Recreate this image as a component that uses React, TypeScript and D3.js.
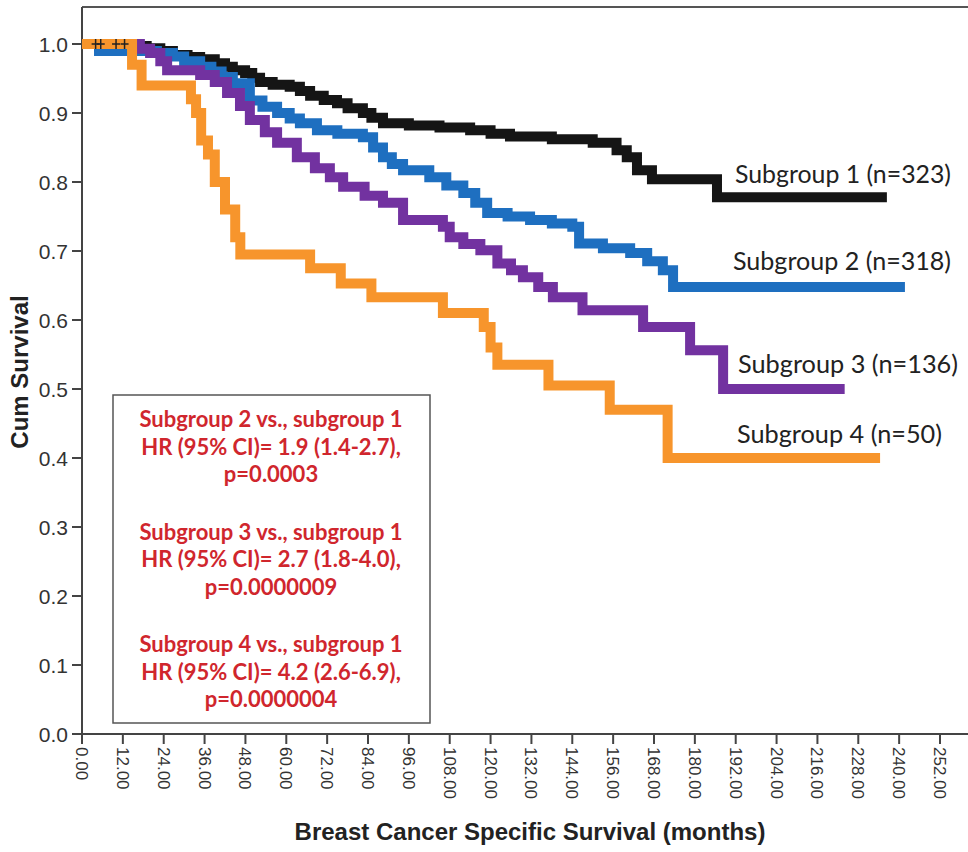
import React from "react";
import * as d3 from "d3";

const W = 968;
const H = 852;

// Subgroup 1 (n=323)
const sg1Time = [0, 5, 19, 23, 26.7, 31, 34.7, 39, 42, 44.3, 47.9, 50, 52.3, 56, 61, 64, 67, 71, 74.9, 78, 82.5, 85, 88.4, 96, 105, 114, 120, 125.7, 138, 150, 157, 160, 163, 167.4, 186.5];
const sg1Surv = [1.0, 0.997, 0.994, 0.99, 0.984, 0.981, 0.978, 0.972, 0.967, 0.962, 0.958, 0.951, 0.945, 0.941, 0.938, 0.932, 0.925, 0.919, 0.914, 0.907, 0.9, 0.893, 0.885, 0.882, 0.879, 0.875, 0.87, 0.866, 0.862, 0.857, 0.846, 0.836, 0.817, 0.804, 0.778];
const sg1End = 236.4;

// Subgroup 2 (n=318)
const sg2Time = [0, 5, 22, 26.7, 30, 34.7, 38, 41, 44.3, 49.3, 53, 57.3, 61, 64, 69, 75, 82.5, 85.5, 88.4, 91, 94.3, 102, 107, 112, 115.5, 119, 125, 131.6, 138, 144, 146, 153, 161, 166, 170.6, 173.6];
const sg2Surv = [1.0, 0.99, 0.987, 0.982, 0.975, 0.967, 0.96, 0.952, 0.943, 0.918, 0.909, 0.9, 0.892, 0.885, 0.875, 0.87, 0.865, 0.85, 0.836, 0.826, 0.817, 0.807, 0.795, 0.784, 0.77, 0.755, 0.75, 0.745, 0.74, 0.735, 0.711, 0.704, 0.697, 0.685, 0.672, 0.648];
const sg2End = 241.7;

// Subgroup 3 (n=136)
const sg3Time = [0, 17, 20, 23, 25, 34.7, 39, 42.6, 46.4, 49.3, 53.7, 57.3, 63.1, 68.4, 72.8, 76.7, 83, 88.4, 94.3, 106, 108, 112, 117, 122, 126, 129.5, 134, 138.3, 147, 164.8, 178.6, 188.3];
const sg3Surv = [1.0, 0.993, 0.987, 0.975, 0.962, 0.955, 0.945, 0.929, 0.91, 0.89, 0.872, 0.857, 0.836, 0.82, 0.807, 0.793, 0.78, 0.77, 0.745, 0.735, 0.72, 0.71, 0.701, 0.682, 0.672, 0.662, 0.648, 0.633, 0.614, 0.59, 0.556, 0.5];
const sg3End = 224;

// Subgroup 4 (n=50)
const sg4Time = [0, 14.7, 17.5, 32, 33.5, 35, 37, 39, 42, 45, 46.5, 67, 76, 85, 106, 118, 120, 122, 137, 155, 172];
const sg4Surv = [1.0, 0.97, 0.94, 0.92, 0.9, 0.86, 0.84, 0.8, 0.76, 0.72, 0.695, 0.675, 0.653, 0.633, 0.61, 0.59, 0.56, 0.535, 0.505, 0.47, 0.4];
const sg4End = 234.4;

const censor1Time = [4, 5.5, 10, 12.5];
const censor1Surv = [1.0, 1.0, 1.0, 1.0];

const seriesNames = ["Subgroup 1 (n=323)", "Subgroup 2 (n=318)", "Subgroup 3 (n=136)", "Subgroup 4 (n=50)"];
const seriesColors = ["#151515", "#1e6fc0", "#7232a0", "#f7952c"];

const xTicks = d3.range(0, 253, 12);
const yTicks = d3.range(0, 1.01, 0.1);

const hrLines = [
  ["Subgroup 2 vs., subgroup 1", "HR (95% CI)= 1.9 (1.4-2.7),", "p=0.0003"],
  ["Subgroup 3 vs., subgroup 1", "HR (95% CI)= 2.7 (1.8-4.0),", "p=0.0000009"],
  ["Subgroup 4 vs., subgroup 1", "HR (95% CI)= 4.2 (2.6-6.9),", "p=0.0000004"],
];

export default function App() {
  const x = d3.scaleLinear().domain([0, 252]).range([82, 940]);
  const y = d3.scaleLinear().domain([0, 1]).range([734, 44]);

  const series = [
    { t: sg1Time, s: sg1Surv, end: sg1End },
    { t: sg2Time, s: sg2Surv, end: sg2End },
    { t: sg3Time, s: sg3Surv, end: sg3End },
    { t: sg4Time, s: sg4Surv, end: sg4End },
  ];

  const line = d3
    .line<[number, number]>()
    .x((d) => x(d[0]))
    .y((d) => y(d[1]))
    .curve(d3.curveStepAfter);

  const paths = series.map((sr) => {
    const pts: [number, number][] = sr.t.map((t, i) => [t, sr.s[i]]);
    pts.push([sr.end, sr.s[sr.s.length - 1]]);
    return line(pts) as string;
  });

  const labelPos = [
    { x: 735, y: 183, w: 216 },
    { x: 733, y: 270, w: 218 },
    { x: 738, y: 373, w: 220 },
    { x: 737, y: 443, w: 205 },
  ];

  const axisColor = "#444";
  const tickFont = "Liberation Sans, Arial, sans-serif";

  return (
    <svg
      width={W}
      height={H}
      style={{ position: "absolute", left: 0, top: 0, background: "#fff" }}
    >
      <rect x={0} y={0} width={W} height={H} fill="#fff" />
      {/* frame top */}
      <line x1={82} x2={W} y1={7} y2={7} stroke="#555" strokeWidth={2} />
      {/* y axis */}
      <line x1={82} x2={82} y1={7} y2={y(0)} stroke={axisColor} strokeWidth={2} />
      {/* x axis */}
      <line x1={72} x2={W} y1={y(0)} y2={y(0)} stroke={axisColor} strokeWidth={2} />
      {yTicks.map((v, i) => (
        <g key={"yt" + i}>
          <line x1={72} x2={82} y1={y(v)} y2={y(v)} stroke={axisColor} strokeWidth={2} />
          <text
            x={68}
            y={y(v)}
            dy="0.36em"
            textAnchor="end"
            fontFamily={tickFont}
            fontSize={21}
            fill="#333"
          >
            {v.toFixed(1)}
          </text>
        </g>
      ))}
      {xTicks.map((v, i) => (
        <g key={"xt" + i}>
          <line x1={x(v)} x2={x(v)} y1={y(0)} y2={y(0) + 10} stroke={axisColor} strokeWidth={2} />
          <text
            transform={`translate(${x(v) - 6},${y(0) + 13}) rotate(90)`}
            fontFamily={tickFont}
            fontSize={17}
            fill="#333"
          >
            {v.toFixed(2)}
          </text>
        </g>
      ))}

      {/* curves */}
      {paths.map((d, i) => (
        <path
          key={"p" + i}
          d={d}
          fill="none"
          stroke={seriesColors[i]}
          strokeWidth={10}
          strokeLinejoin="miter"
        />
      ))}
      {censor1Time.map((t, i) => (
        <g key={"c" + i} stroke="#222" strokeWidth={1.5}>
          <line x1={x(t) - 4} x2={x(t) + 4} y1={y(censor1Surv[i])} y2={y(censor1Surv[i])} />
          <line x1={x(t)} x2={x(t)} y1={y(censor1Surv[i]) - 5} y2={y(censor1Surv[i]) + 5} />
        </g>
      ))}

      {/* series labels */}
      {seriesNames.map((n, i) => (
        <text
          key={"l" + i}
          x={labelPos[i].x}
          y={labelPos[i].y}
          fontFamily="Lato, 'Open Sans', sans-serif"
          fontSize={25}
          fill="#222"
          textLength={labelPos[i].w}
          lengthAdjust="spacingAndGlyphs"
        >
          {n}
        </text>
      ))}

      {/* HR box */}
      <rect x={113} y={395} width={317} height={328} fill="#fff" stroke="#555" strokeWidth={1.5} />
      {hrLines.map((grp, gi) =>
        grp.map((ln, li) => (
          <text
            key={"hr" + gi + "-" + li}
            x={271}
            y={427 + gi * 112.5 + li * 27.5}
            textAnchor="middle"
            fontFamily="Lato, 'Open Sans', sans-serif"
            fontWeight="bold"
            fontSize={22}
            fill="#d0262d"
          >
            {ln}
          </text>
        ))
      )}

      {/* axis titles */}
      <text
        x={530}
        y={840}
        textAnchor="middle"
        fontFamily="Liberation Sans, Arial, sans-serif"
        fontWeight="bold"
        fontSize={24}
        fill="#222"
      >
        Breast Cancer Specific Survival (months)
      </text>
      <text
        transform={`translate(28,372) rotate(-90)`}
        textAnchor="middle"
        fontFamily="Liberation Sans, Arial, sans-serif"
        fontWeight="bold"
        fontSize={24}
        fill="#222"
      >
        Cum Survival
      </text>
    </svg>
  );
}
